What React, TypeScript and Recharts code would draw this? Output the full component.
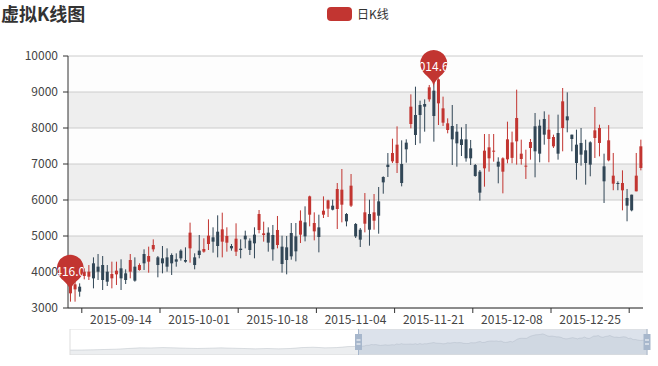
import React from 'react';
import {
  ComposedChart,
  Bar,
  XAxis,
  YAxis,
  CartesianGrid,
  ReferenceDot,
  AreaChart,
  Area,
  ReferenceArea,
} from 'recharts';

const FONT = '"Noto Sans CJK SC", "Noto Sans", sans-serif';
const UP = '#c23531';
const DOWN = '#314656';

// daily categories, 2015-09-03 .. 2016-01-05
const DAY = 86400000;
const START = Date.UTC(2015, 8, 3);
const dates = Array.from({ length: 125 }, (_, i) => new Date(START + i * DAY).toISOString().slice(0, 10));

const opens = [
  3407, 3518, 3592, 3889, 3870, 4241, 4148, 4194, 4009, 3824, 3935, 4102, 3963, 4009, 4148, 4055, 4500, 4287, 4630, 4407,
  4380, 4407, 4472, 4352, 4593, 4333, 4657, 4407, 4593, 4565, 4778, 4963, 5120, 4843, 4815, 4722, 4565, 4648, 5009, 4870,
  5037, 5167, 5028, 5093, 5028, 4750, 4704, 4685, 5083, 4990, 5037, 5379, 5592, 5129, 5240, 5592, 5759, 5842, 5750, 5870,
  5611, 5842, 5333, 5175, 5342, 5611, 5425, 5963, 6639, 6981, 7074, 7027, 6999, 7593, 8111, 8361, 8639, 8667, 8796, 9037,
  8685, 8148, 7945, 8056, 7898, 7685, 7685, 7435, 6972, 6787, 6880, 7158, 7343, 7065, 6787, 7130, 7170, 7630, 7139, 6935,
  7445, 8047, 8065, 8250, 7695, 7491, 7861, 8000, 8324, 7815, 7537, 7584, 7380, 7602, 7723, 7584, 6935, 7102, 6454, 6472,
  6269, 6056, 6148, 6241, 6889,
];
const closes = [
  3639, 3657, 3454, 4009, 4009, 3824, 4009, 3778, 3731, 3944, 4037, 3824, 3778, 4333, 3759, 4194, 4241, 4444, 4750, 4194,
  4241, 4148, 4241, 4287, 4380, 4287, 5093, 4194, 4472, 4639, 5009, 4843, 4722, 5185, 5000, 4657, 4926, 4611, 4907, 4611,
  4796, 5611, 5074, 4815, 4630, 5167, 4222, 4333, 4435, 4574, 5425, 4990, 6101, 5361, 4972, 5703, 5990, 5731, 6305, 6287,
  5407, 6398, 4990, 4898, 5657, 5175, 5657, 5564, 6490, 6916, 7305, 7537, 6472, 7408, 8593, 7806, 8361, 8593, 9130, 8333,
  9352, 8546, 8130, 7685, 7574, 7528, 7158, 7158, 6667, 6204, 7370, 7463, 7370, 6926, 7158, 7685, 7600, 8278, 7287, 6954,
  7611, 7352, 7287, 7815, 7954, 7750, 7287, 8741, 8213, 7695, 7028, 7260, 7028, 6982, 7935, 8000, 6519, 7658, 6676, 6454,
  6472, 5843, 5713, 6676, 7491,
];
const lows = [
  3176, 3176, 3315, 3796, 3778, 3546, 3778, 3500, 3611, 3546, 3639, 3500, 3667, 3824, 3731, 4037, 4055, 3981, 4565, 3852,
  3963, 4009, 3917, 4148, 4315, 4259, 4259, 4074, 4380, 4537, 4611, 4537, 4407, 4407, 4565, 4593, 4444, 4380, 4657, 4472,
  4380, 5074, 4843, 4565, 4315, 4657, 3982, 3935, 4342, 4296, 4805, 4851, 5268, 4879, 4546, 5500, 5527, 5712, 5194, 5379,
  5268, 5805, 4944, 4694, 5101, 4731, 5175, 5064, 6175, 6639, 7027, 6750, 6379, 7037, 7991, 7528, 7574, 7898, 8732, 7620,
  8083, 8056, 7852, 6972, 6926, 7222, 7065, 6972, 6648, 5982, 6370, 6787, 7065, 6463, 6185, 7019, 7020, 6982, 6982, 6584,
  7121, 6630, 7047, 7537, 7047, 7445, 7121, 7352, 7880, 7352, 6565, 6954, 6426, 6658, 7167, 7213, 5917, 7074, 6271, 6271,
  5713, 5408, 5685, 6241, 6824,
];
const highs = [
  3778, 3731, 3685, 4102, 4194, 4407, 4500, 4444, 4194, 4287, 4287, 4352, 4074, 4500, 4407, 4241, 4630, 4704, 4907, 4444,
  4722, 4657, 4518, 4518, 4630, 4685, 5371, 4519, 5028, 4935, 5463, 5241, 5574, 5648, 5241, 4778, 5352, 4907, 5148, 4935,
  5241, 5722, 5398, 5241, 5306, 5556, 5009, 5000, 5361, 5361, 5712, 5824, 6120, 5657, 5592, 6101, 6009, 6009, 6472, 6861,
  5638, 6722, 5361, 5222, 6194, 6009, 6166, 6361, 6657, 7305, 7703, 8046, 7657, 7685, 8935, 9148, 8759, 8796, 9195, 9241,
  9380, 8871, 8269, 8639, 8111, 8019, 8111, 7667, 7000, 6833, 7833, 7833, 7833, 7185, 7185, 8176, 7900, 9065, 7676, 7398,
  7695, 8417, 8232, 8463, 8371, 7815, 8371, 9111, 8991, 7815, 7954, 8000, 7676, 7630, 8584, 8093, 7287, 8080, 7306, 6519,
  6824, 6306, 6148, 7306, 7676,
];

// opens of the earlier part of the series (outside the zoom window), one every 5 days
const earlierOpens = [
  1730, 1760, 1850, 1990, 2140, 2435, 2730, 2700, 2850, 2730, 2580, 2435, 2580, 2730, 2580, 2435, 2290, 2435, 2290, 2435,
  2850, 3020, 2730, 2850, 3300,
];

const yTicks = [3000, 4000, 5000, 6000, 7000, 8000, 9000, 10000];
const labelDates = ['2015-09-14', '2015-10-01', '2015-10-18', '2015-11-04', '2015-11-21', '2015-12-08', '2015-12-25'];
const tickDates = ['2015-09-06', '2015-09-23', '2015-10-10', '2015-10-27', '2015-11-13', '2015-11-30', '2015-12-17', '2016-01-03'];

const markPoints = [
  { date: '2015-09-03', value: 3420, label: '4416.04' },
  { date: '2015-11-21', value: 9110, label: '9014.64' },
];

const ZOOM_START = 50; // percent
const ZOOM_END = 100;

const data = dates.map((date, i) => ({
  date,
  open: opens[i],
  close: closes[i],
  low: lows[i],
  high: highs[i],
}));

const shadowData = [
  ...earlierOpens.map((v, k) => ({ t: k * 5, v })),
  ...opens.map((v, i) => ({ t: earlierOpens.length * 5 + i, v })),
];
const shadowLast = shadowData[shadowData.length - 1].t;
const SHADOW_MIN = -500;
const SHADOW_MAX = 11240;

const PLOT_W = 575;
const BAND = PLOT_W / dates.length;

const Candle = (props: any) => {
  const { x, y, width, height, payload } = props;
  const { open, close, low, high } = payload;
  const k = height / (high - low);
  const cx = x + width / 2;
  const yo = y + (high - open) * k;
  const yc = y + (high - close) * k;
  const color = close > open ? UP : DOWN;
  const top = Math.min(yo, yc);
  const bh = Math.max(Math.abs(yo - yc), 1);
  return (
    <g>
      <line x1={cx} x2={cx} y1={y} y2={y + height} stroke={color} strokeWidth={1} />
      <rect x={cx - 1.5} y={top} width={3} height={bh} fill={color} />
    </g>
  );
};

const DateTick = (props: any) => {
  const { x, y, payload } = props;
  const v = payload.value;
  return (
    <g>
      {tickDates.includes(v) && (
        <line x1={x - BAND / 2} x2={x - BAND / 2} y1={y} y2={y + 5} stroke="#333" />
      )}
      {labelDates.includes(v) && (
        <text x={x} y={y + 16} textAnchor="middle" fontSize={12} fill="#444" fontFamily={FONT}>
          {v}
        </text>
      )}
    </g>
  );
};

const Pin = ({ cx, cy, text, id }: any) => {
  const r = 13.5;
  const h = 44;
  const dy = (r * r) / (h - r);
  const c = cy - h + r + dy;
  const a = Math.asin(dy / r);
  const dx = Math.cos(a) * r;
  const tx = Math.sin(a);
  const ty = Math.cos(a);
  const cp = r * 0.6;
  const cp2 = r * 0.7;
  const d =
    `M${cx - dx},${c + dy} A${r},${r} 0 1 1 ${cx + dx},${c + dy} ` +
    `C${cx + dx - tx * cp},${c + dy + ty * cp} ${cx},${cy - cp2} ${cx},${cy} ` +
    `C${cx},${cy - cp2} ${cx - dx + tx * cp},${c + dy + ty * cp} ${cx - dx},${c + dy} Z`;
  return (
    <g>
      <defs>
        <clipPath id={id}>
          <path d={d} />
        </clipPath>
      </defs>
      <path d={d} fill={UP} />
      <text
        x={cx}
        y={cy - h / 2 + 2}
        textAnchor="middle"
        dominantBaseline="middle"
        fontSize={12}
        fill="#fff"
        fontFamily={FONT}
        clipPath={`url(#${id})`}
      >
        {text}
      </text>
    </g>
  );
};

const Handle = ({ cx, cy }: any) => (
  <g>
    <line x1={cx} x2={cx} y1={cy - 13} y2={cy + 13} stroke="#a7b7cc" />
    <rect x={cx - 3.5} y={cy - 8} width={7} height={16} fill="#a7b7cc" />
    <line x1={cx - 2} x2={cx + 2} y1={cy - 2} y2={cy - 2} stroke="#fff" />
    <line x1={cx - 2} x2={cx + 2} y1={cy + 2} y2={cy + 2} stroke="#fff" />
  </g>
);

const App: React.FC = () => {
  const zoomFrom = (shadowLast * ZOOM_START) / 100;
  const zoomTo = (shadowLast * ZOOM_END) / 100;
  const mid = (SHADOW_MIN + SHADOW_MAX) / 2;
  return (
    <div style={{ position: 'relative', width: 658, height: 366, fontFamily: FONT, background: '#fff' }}>
      <style>{'body{margin:0}'}</style>
      <div style={{ position: 'absolute', left: 1, top: 3, fontSize: 18, fontWeight: 'bold', color: '#333', lineHeight: '20px' }}>
        虚拟K线图
      </div>
      <div style={{ position: 'absolute', left: 327, top: 5, display: 'flex', alignItems: 'center', fontSize: 12, color: '#333' }}>
        <svg width={25} height={14} style={{ marginRight: 5 }}>
          <rect width={25} height={14} rx={4} fill={UP} />
        </svg>
        <span>日K线</span>
      </div>
      <div style={{ position: 'absolute', left: 0, top: 0 }}>
        <ComposedChart width={658} height={338} data={data} margin={{ top: 56, right: 15, bottom: 0, left: 0 }}>
          <CartesianGrid vertical={false} stroke="#ccc" horizontalFill={['#fdfdfd', '#eeeeee']} fillOpacity={1} />
          <XAxis
            dataKey="date"
            interval={0}
            tickLine={false}
            tickSize={0}
            tickMargin={0}
            height={30}
            axisLine={{ stroke: '#333' }}
            tick={DateTick}
          />
          <YAxis
            domain={[3000, 10000]}
            ticks={yTicks}
            width={68}
            tickSize={5}
            tickMargin={5}
            axisLine={{ stroke: '#333' }}
            tickLine={{ stroke: '#333' }}
            tick={{ fill: '#444', fontSize: 12, fontFamily: FONT }}
          />
          <Bar dataKey={(d: any) => [d.low, d.high]} shape={Candle} isAnimationActive={false} />
          {markPoints.map((m, i) => (
            <ReferenceDot
              key={m.date}
              x={m.date}
              y={m.value}
              shape={(p: any) => <Pin cx={p.cx} cy={p.cy} text={m.label} id={`pin-clip-${i}`} />}
            />
          ))}
        </ComposedChart>
      </div>
      <div style={{ position: 'absolute', left: 0, top: 329 }}>
        <AreaChart width={658} height={26} data={shadowData} margin={{ top: 0, right: 11, bottom: 0, left: 70 }}>
          <XAxis type="number" dataKey="t" domain={[0, shadowLast]} hide />
          <YAxis domain={[SHADOW_MIN, SHADOW_MAX]} hide />
          <Area
            dataKey="v"
            type="linear"
            baseValue={SHADOW_MIN}
            stroke="#2f4554"
            strokeOpacity={0.3}
            strokeWidth={0.5}
            fill="#2f4554"
            fillOpacity={0.09}
            isAnimationActive={false}
            dot={false}
            activeDot={false}
          />
          <ReferenceArea x1={zoomFrom} x2={zoomTo} fill="#a7b7cc" fillOpacity={0.4} stroke="none" />
          <ReferenceArea x1={0} x2={shadowLast} fill="none" stroke="#ddd" />
          <ReferenceDot x={zoomFrom} y={mid} shape={Handle} />
          <ReferenceDot x={zoomTo} y={mid} shape={Handle} />
        </AreaChart>
      </div>
    </div>
  );
};

export default App;
